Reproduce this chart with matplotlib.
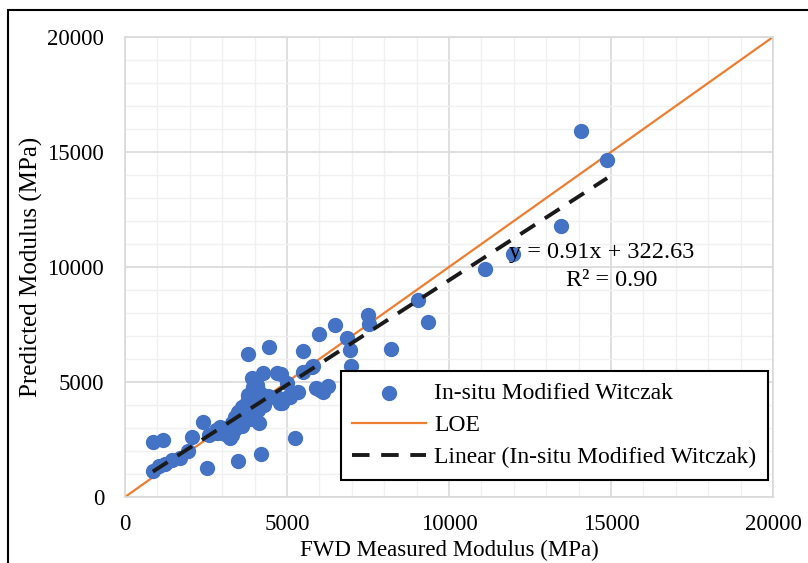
import numpy as np
import matplotlib.pyplot as plt
from matplotlib.patches import Rectangle
from matplotlib.ticker import MultipleLocator

plt.rcParams['font.family'] = ['Liberation Serif', 'DejaVu Serif']

# FWD measured modulus (MPa) vs predicted modulus (MPa)
fwd = [860, 1170, 870, 1050, 1250, 1450, 1700, 1950, 2060, 2420, 2520,
       3500, 4190, 5250, 2830, 2930, 3140, 3240, 2600, 2800, 3000, 3200,
       3300, 3300, 3400, 3400, 3500, 3500, 3600, 3600, 3700, 3700, 3800,
       3800, 3900, 3900, 4000, 4000, 4100, 4200, 4300, 4400, 4150, 3810,
       3960, 4170, 4060, 4480, 4680, 4780, 4840, 5040, 5090, 5350, 4990,
       4830, 3910, 4270, 4700, 5500, 5810, 5760, 5910, 6020, 6120, 6280,
       3790, 4440, 5500, 6000, 6480, 6860, 6940, 6970, 7490, 7540, 8210,
       9040, 9350, 11110, 11980, 13460, 14070, 14880]
pred = [2390, 2480, 1130, 1350, 1450, 1600, 1700, 2010, 2620, 3270, 1270,
        1570, 1860, 2580, 2770, 3060, 2700, 2550, 2700, 2900, 2800, 3000,
        2700, 3200, 2950, 3500, 3300, 3700, 3100, 3900, 3500, 4000, 3700,
        4200, 3400, 3900, 4100, 3600, 3800, 4300, 4000, 4400, 3230, 4430,
        4800, 4510, 4870, 4360, 4360, 4070, 4070, 4360, 4360, 4580, 4940,
        5350, 5160, 5380, 5400, 5450, 5680, 5670, 4730, 4650, 4580, 4810,
        6220, 6510, 6360, 7070, 7480, 6900, 6390, 5710, 7910, 7520, 6420,
        8560, 7610, 9910, 10570, 11780, 15910, 14650]

slope, intercept = 0.91, 322.63
loe = [0, 20000]

fig = plt.figure(figsize=(8.08, 5.63), dpi=100)
ax = fig.add_axes([0.1547, 0.1172, 0.802, 0.8171])

ax.scatter(fwd, pred, s=100, color='#4472C4', zorder=3,
           label='In-situ Modified Witczak')
ax.plot(loe, loe, color='#ED7D31', lw=1.6, zorder=2, label='LOE')
xf = np.array([min(fwd), max(fwd)])
ax.plot(xf, slope * xf + intercept, color='#1a1a1a', lw=2.8,
        dashes=(4.5, 3), zorder=4, label='Linear (In-situ Modified Witczak)')

ax.set_xlim(0, 20000)
ax.set_ylim(0, 20000)
ax.xaxis.set_major_locator(MultipleLocator(5000))
ax.yaxis.set_major_locator(MultipleLocator(5000))
ax.xaxis.set_minor_locator(MultipleLocator(1000))
ax.yaxis.set_minor_locator(MultipleLocator(1000))
ax.grid(which='major', color='#d9d9d9', lw=1.2, zorder=0)
ax.grid(which='minor', color='#f0f0f0', lw=1.0, zorder=0)
ax.set_axisbelow(True)
ax.tick_params(which='both', length=0, labelsize=16.5)
ax.tick_params(axis='y', pad=15)
ax.tick_params(axis='x', pad=12)
for s in ax.spines.values():
    s.set_color('#d9d9d9')
    s.set_linewidth(1.2)

ax.set_xlabel('FWD Measured Modulus (MPa)', fontsize=16.5, labelpad=4)
ax.set_ylabel('Predicted Modulus (MPa)', fontsize=18, labelpad=3)

ax.text(11850, 10610, 'y = 0.91x + 322.63', fontsize=17.5, va='center')
ax.text(13610, 9430, 'R² = 0.90', fontsize=17.5, va='center')

leg = ax.legend(loc='lower right', bbox_to_anchor=(0.992, 0.037),
                fontsize=17, frameon=True, fancybox=False,
                borderpad=0.5, labelspacing=0.45, handlelength=3.1,
                handletextpad=0.35, borderaxespad=0)
leg.get_frame().set_edgecolor('black')
leg.get_frame().set_linewidth(1.5)
leg.get_frame().set_alpha(1)

fig.patches.append(Rectangle((8 / 808, -0.1), 1.2, 1 - 10 / 563 + 0.1,
                             transform=fig.transFigure, fill=False,
                             edgecolor='black', lw=1.5))

fig.savefig('out.png', dpi=100)
